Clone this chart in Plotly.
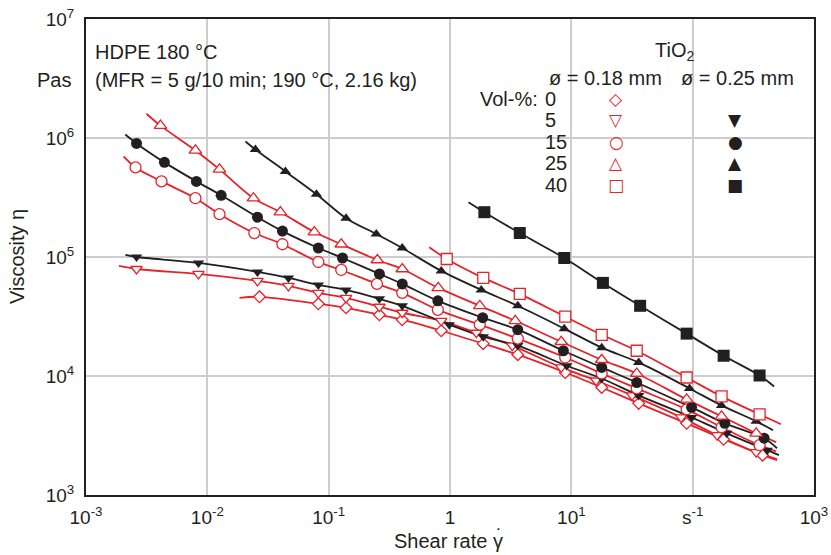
import plotly.graph_objects as go

RED = "#e3242b"
BLACK = "#231f20"
GRID = "#cdcdcd"

# ---------------- data (shear rate in 1/s, viscosity in Pa s) ----------------
# 0 vol-%  (red open diamonds)
x_0 = [0.0269, 0.0822, 0.139, 0.262, 0.404, 0.847, 1.88, 3.62, 8.91, 17.8, 35.9, 89.2, 180, 377]
y_0 = [4.63e4, 4.04e4, 3.74e4, 3.27e4, 2.97e4, 2.40e4, 1.87e4, 1.51e4, 1.07e4, 8.01e3, 5.89e3, 4.00e3, 2.94e3, 2.16e3]
ends_x_0 = [0.0184, 496]
ends_y_0 = [4.54e4, 1.96e3]

# 5 vol-%, 0.18 mm (red open down-triangles)
x_5a = [0.00261, 0.00845, 0.0259, 0.0466, 0.0822, 0.139, 0.262, 0.404, 0.847, 1.65, 3.26, 8.26, 16.0, 31.7, 80.4, 159, 334]
y_5a = [7.93e4, 7.21e4, 6.30e4, 5.72e4, 5.00e4, 4.54e4, 3.82e4, 3.40e4, 2.91e4, 2.31e4, 1.80e4, 1.18e4, 9.17e3, 6.87e3, 4.49e3, 3.18e3, 2.29e3]
ends_x_5a = [0.00187, 496]
ends_y_5a = [8.41e4, 2.00e3]

# 5 vol-%, 0.25 mm (black down-triangles)
x_5b = [0.00261, 0.00845, 0.0259, 0.0466, 0.0822, 0.139, 0.262, 0.404, 0.986, 1.88, 3.62, 9.17, 17.8, 35.9, 97.9, 191, 411]
y_5b = [1.00e5, 8.91e4, 7.49e4, 6.67e4, 5.83e4, 5.29e4, 4.45e4, 3.89e4, 2.70e4, 2.14e4, 1.80e4, 1.22e4, 9.53e3, 6.87e3, 4.49e3, 3.30e3, 2.38e3]
ends_x_5b = [0.00211, 514]
ends_y_5b = [1.04e5, 2.16e3]

# 15 vol-%, 0.18 mm (red open circles)
x_15a = [0.00256, 0.00419, 0.00798, 0.0126, 0.0244, 0.0416, 0.0822, 0.127, 0.250, 0.404, 0.794, 1.76, 3.62, 8.91, 17.8, 34.6, 89.2, 173, 356]
y_15a = [5.66e5, 4.32e5, 3.12e5, 2.29e5, 1.59e5, 1.28e5, 9.08e4, 7.78e4, 5.94e4, 5.00e4, 3.60e4, 2.70e4, 2.06e4, 1.43e4, 1.05e4, 7.86e3, 5.24e3, 3.71e3, 2.62e3]
ends_x_15a = [0.00204, 487]
ends_y_15a = [7.00e5, 2.33e3]

# 15 vol-%, 0.25 mm (black circles)
x_15b = [0.00261, 0.00443, 0.00813, 0.0130, 0.0259, 0.0416, 0.0822, 0.130, 0.262, 0.404, 0.794, 1.86, 3.62, 8.60, 17.8, 34.6, 97.9, 184, 388]
y_15b = [9.00e5, 6.24e5, 4.32e5, 3.30e5, 2.16e5, 1.65e5, 1.19e5, 9.81e4, 7.21e4, 5.94e4, 4.28e4, 3.09e4, 2.45e4, 1.63e4, 1.18e4, 8.82e3, 5.45e3, 4.00e3, 3.00e3]
ends_x_15b = [0.00211, 496]
ends_y_15b = [1.07e6, 2.47e3]

# 25 vol-%, 0.18 mm (red open up-triangles)
x_25a = [0.00411, 0.00798, 0.0126, 0.0240, 0.0400, 0.0762, 0.127, 0.252, 0.404, 0.800, 1.76, 3.45, 8.26, 17.8, 34.6, 89.2, 173, 334]
y_25a = [1.27e6, 7.86e5, 5.45e5, 3.12e5, 2.38e5, 1.62e5, 1.28e5, 9.44e4, 7.93e4, 5.50e4, 3.89e4, 2.91e4, 1.94e4, 1.37e4, 1.05e4, 6.36e3, 4.58e3, 3.30e3]
ends_x_25a = [0.00315, 487]
ends_y_25a = [1.60e6, 2.78e3]

# 25 vol-%, 0.25 mm (black up-triangles)
x_25b = [0.0249, 0.0440, 0.0793, 0.139, 0.247, 0.404, 0.847, 1.81, 3.62, 8.74, 17.8, 35.9, 94.2, 173, 334]
y_25b = [8.01e5, 5.24e5, 3.37e5, 2.12e5, 1.56e5, 1.19e5, 7.64e4, 5.29e4, 3.89e4, 2.50e4, 1.73e4, 1.30e4, 7.86e3, 5.66e3, 4.16e3]
ends_x_25b = [0.0206, 460]
ends_y_25b = [9.35e5, 3.50e3]

# 40 vol-%, 0.18 mm (red open squares)
x_40a = [0.94, 1.88, 3.76, 8.91, 17.8, 34.6, 89.2, 173, 356]
y_40a = [9.62e4, 6.67e4, 4.90e4, 3.15e4, 2.22e4, 1.63e4, 9.71e3, 6.74e3, 4.76e3]
ends_x_40a = [0.675, 535]
ends_y_40a = [1.21e5, 3.93e3]

# 40 vol-%, 0.25 mm (black squares)
x_40b = [1.92, 3.76, 8.74, 18.2, 36.9, 89.2, 180, 356]
y_40b = [2.38e5, 1.59e5, 9.81e4, 6.06e4, 3.89e4, 2.27e4, 1.48e4, 1.01e4]
ends_x_40b = [1.42, 469]
ends_y_40b = [2.89e5, 8.17e3]

x_tick_vals = [1e-3, 1e-2, 1e-1, 1, 10, 100, 1000]
x_tick_text = ["10<sup>-3</sup>", "10<sup>-2</sup>", "10<sup>-1</sup>", "1", "10<sup>1</sup>", "s<sup>-1</sup>", "10<sup>3</sup>"]
y_tick_vals = [1e3, 1e4, 1e5, 1e6, 1e7]
y_tick_text = ["10<sup>3</sup>", "10<sup>4</sup>", "10<sup>5</sup>", "10<sup>6</sup>", "10<sup>7</sup>"]

vol_labels = ["0", "5", "15", "25", "40"]
sym_018 = ["◇", "▽", "○", "△", "□"]
sym_025 = ["", "▼", "●", "▲", "■"]

# ---------------- figure ----------------
series = [
    (x_0, y_0, ends_x_0, ends_y_0, RED, "diamond", 9, True),
    (x_5a, y_5a, ends_x_5a, ends_y_5a, RED, "triangle-down", 10, True),
    (x_5b, y_5b, ends_x_5b, ends_y_5b, BLACK, "triangle-down", 10, False),
    (x_15a, y_15a, ends_x_15a, ends_y_15a, RED, "circle", 11, True),
    (x_15b, y_15b, ends_x_15b, ends_y_15b, BLACK, "circle", 11, False),
    (x_25a, y_25a, ends_x_25a, ends_y_25a, RED, "triangle-up", 11, True),
    (x_25b, y_25b, ends_x_25b, ends_y_25b, BLACK, "triangle-up", 10, False),
    (x_40a, y_40a, ends_x_40a, ends_y_40a, RED, "square", 11, True),
    (x_40b, y_40b, ends_x_40b, ends_y_40b, BLACK, "square", 12, False),
]

fig = go.Figure()
for xs, ys, ex, ey, col, sym, size, hollow in series:
    fig.add_trace(go.Scatter(
        x=[ex[0]] + xs + [ex[1]], y=[ey[0]] + ys + [ey[1]],
        mode="lines", line=dict(color=col, width=1.8, shape="spline", smoothing=0.9),
        hoverinfo="skip", showlegend=False))
for xs, ys, ex, ey, col, sym, size, hollow in series:
    if hollow:
        mk = dict(symbol=sym, size=size, color="white", line=dict(color=col, width=1.3))
    else:
        mk = dict(symbol=sym, size=size, color=col, line=dict(width=0))
    fig.add_trace(go.Scatter(x=xs, y=ys, mode="markers", marker=mk, showlegend=False))

axis_common = dict(
    type="log", showgrid=True, gridcolor=GRID, gridwidth=1.5,
    showline=True, linecolor=BLACK, linewidth=2, mirror=True,
    ticks="", zeroline=False, tickfont=dict(size=19, color=BLACK),
    automargin=False,
)
fig.update_layout(
    width=831, height=555,
    margin=dict(l=86, r=17, t=19, b=60),
    paper_bgcolor="white", plot_bgcolor="white",
    showlegend=False,
    font=dict(family="Liberation Sans, Arial, sans-serif", size=20, color=BLACK),
    xaxis=dict(range=[-3, 3], tickvals=x_tick_vals, ticktext=x_tick_text, ticklabelstandoff=4, **axis_common),
    yaxis=dict(range=[3, 7], tickvals=y_tick_vals, ticktext=y_tick_text, ticklabelstandoff=6, **axis_common),
)

# white boxes behind the text blocks (hide grid lines there)
fig.add_shape(type="rect", xref="paper", yref="paper", x0=0, x1=0.486, y0=0.851, y1=1,
              fillcolor="white", line=dict(width=0), layer="between")
fig.add_shape(type="rect", xref="paper", yref="paper", x0=0.606, x1=1, y0=0.622, y1=1,
              fillcolor="white", line=dict(width=0), layer="between")

def px_x(px):
    return (px - 86) / 728.0

def px_y(py):
    return (495 - py) / 476.0

def ann(text, px, py, xanchor="left", size=20, color=BLACK, family=None, angle=0):
    f = dict(size=size, color=color)
    if family:
        f["family"] = family
    fig.add_annotation(text=text, x=px_x(px), y=px_y(py), xref="paper", yref="paper",
                       xanchor=xanchor, yanchor="middle", showarrow=False, font=f, textangle=angle)

ann("HDPE 180 °C", 93, 52)
ann("(MFR = 5 g/10 min; 190 °C, 2.16 kg)", 93, 80)
ann("Pas", 73, 80, xanchor="right")
ann("TiO<sub>2</sub>", 674, 52, xanchor="center")
ann("ø = 0.18 mm", 605, 78, xanchor="center")
ann("ø = 0.25 mm", 737, 78, xanchor="center")
ann("Vol-%:", 540, 99, xanchor="right")
rows_y = [99, 120, 142, 163, 185]
for lab, s1, s2, ry in zip(vol_labels, sym_018, sym_025, rows_y):
    ann(lab, 543, ry)
    ann(s1, 616, ry, xanchor="center", size=17, color=RED, family="DejaVu Sans")
    if s2:
        ann(s2, 735, ry, xanchor="center", size=17, color=BLACK, family="DejaVu Sans")

ann("Viscosity η", 17, 257, xanchor="center", angle=-90)
ann("Shear rate γ", 505, 541, xanchor="right")
ann("˙", 499, 536, xanchor="center")

fig.write_html("out.html", config={"displayModeBar": False},
               post_script="document.body.style.margin='0';document.body.style.overflow='hidden';")
